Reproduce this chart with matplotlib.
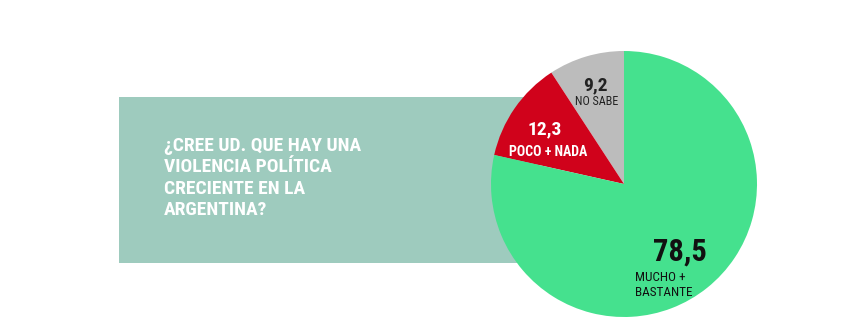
import matplotlib

matplotlib.use("Agg")
import matplotlib.pyplot as plt
from matplotlib import font_manager
from matplotlib.patches import Rectangle

labels = ["NO SABE", "POCO + NADA", "MUCHO +\nBASTANTE"]
values = [9.2, 12.3, 78.5]
value_text = ["9,2", "12,3", "78,5"]
colors = ["#BCBCBC", "#D0021B", "#45E18E"]
question = "¿CREE UD. QUE HAY UNA\nVIOLENCIA POLÍTICA\nCRECIENTE EN LA\nARGENTINA?"

names = {f.name for f in font_manager.fontManager.ttflist}
NARROW = next((n for n in ["Roboto Condensed", "Archivo Narrow", "PT Sans Narrow",
                           "Liberation Sans Narrow", "Asap Condensed", "Liberation Sans"]
               if n in names), "DejaVu Sans")

W, H = 862, 335
fig = plt.figure(figsize=(W / 100, H / 100), dpi=100, facecolor="white")
ax = fig.add_axes([0, 0, 1, 1])


def py(y):
    return H - y


# teal question box behind the pie
ax.add_patch(Rectangle((119, py(263)), 420, 166, facecolor="#9ECBBE", edgecolor="none", zorder=1))
ax.text(164, py(137), question, color="white", fontsize=14, fontweight="bold",
        family=NARROW, ha="left", va="top", linespacing=1.25, zorder=2)

ax.pie(values, colors=colors, startangle=90, counterclock=True, center=(624, py(184)),
       radius=133, wedgeprops=dict(linewidth=0, zorder=3), frame=True)
ax.set_xlim(0, W)
ax.set_ylim(0, H)
ax.set_aspect("equal")
ax.axis("off")

ax.text(595, py(85), value_text[0], fontsize=14, fontweight="bold", color="#222222",
        family=NARROW, ha="center", va="center", zorder=4)
ax.text(597, py(102), labels[0], fontsize=8.7, color="#222222",
        family=NARROW, ha="center", va="center", zorder=4)
ax.text(545, py(129), value_text[1], fontsize=14, fontweight="bold", color="white",
        family=NARROW, ha="center", va="center", zorder=4)
ax.text(548, py(152), labels[1], fontsize=10, color="white", fontweight="bold",
        family=NARROW, ha="center", va="center", zorder=4)
ax.text(680, py(252), value_text[2], fontsize=22, fontweight="bold", color="#111111",
        family=NARROW, ha="center", va="center", zorder=4)
ax.text(635, py(271), labels[2], fontsize=9.5, color="#111111",
        family=NARROW, ha="left", va="top", linespacing=1.25, zorder=4)

fig.savefig("out.png", dpi=100, facecolor="white")
